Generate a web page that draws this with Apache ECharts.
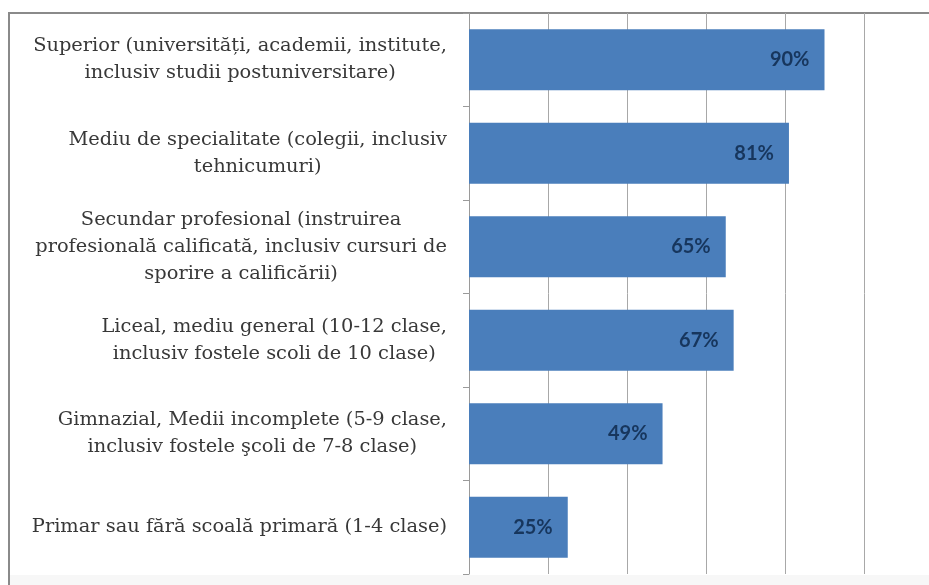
<!DOCTYPE html>
<html>
<head>
<meta charset="utf-8">
<title>Nivel de studii</title>
<script src="https://cdn.jsdelivr.net/npm/echarts@6/dist/echarts.min.js"></script>
<style>
  html, body { margin: 0; padding: 0; background: #fff; }
  #frame {
    position: absolute; left: 8px; top: 12px; width: 921px; height: 573px;
    border-top: 2px solid #8a8a8a; border-left: 2px solid #8a8a8a;
  }
  #strip { position: absolute; left: 10px; top: 575px; width: 919px; height: 10px; background: #f7f7f7; }
  #chart { position: absolute; left: 0; top: 0; width: 929px; height: 585px; }
</style>
</head>
<body>
<div id="frame"></div>
<div id="strip"></div>
<div id="chart"></div>
<script>
const categories = [
  'Superior (universități, academii, institute,\ninclusiv studii postuniversitare)',
  'Mediu de specialitate (colegii, inclusiv\ntehnicumuri)',
  'Secundar profesional (instruirea\nprofesională calificată, inclusiv cursuri de\nsporire a calificării)',
  'Liceal, mediu general (10-12 clase,\ninclusiv fostele scoli de 10 clase)',
  'Gimnazial, Medii incomplete (5-9 clase,\ninclusiv fostele şcoli de 7-8 clase)',
  'Primar sau fără scoală primară (1-4 clase)'
];
const values = [90, 81, 65, 67, 49, 25];
const axisMax = 100;
const axisStep = 20;

const chart = echarts.init(document.getElementById('chart'));

chart.setOption({
  animation: false,
  grid: { left: 469, right: 65, top: 13, bottom: 11, containLabel: false },
  xAxis: {
    type: 'value',
    min: 0,
    max: axisMax,
    interval: axisStep,
    axisLabel: { show: false },
    axisLine: { show: false },
    axisTick: { show: false },
    splitLine: { lineStyle: { color: '#a8a8a8', width: 1 } }
  },
  yAxis: {
    type: 'category',
    data: categories,
    inverse: true,
    axisLine: { lineStyle: { color: '#9a9a9a' } },
    axisTick: { show: true, length: 6, lineStyle: { color: '#9a9a9a' } },
    axisLabel: {
      margin: 22,
      // each line centred inside the right-aligned block
      formatter: (v) => v.split('\n').map(l => '{c|' + l + '}').join('\n'),
      rich: {
        c: {
          align: 'center',
          fontFamily: 'DejaVu Serif',
          fontSize: 19.4,
          lineHeight: 27,
          color: '#383838'
        }
      }
    }
  },
  series: [{
    type: 'bar',
    data: values,
    barCategoryGap: '35%',
    itemStyle: { color: '#4a7ebb' },
    label: {
      show: true,
      position: 'insideRight',
      distance: 15,
      formatter: '{c}%',
      fontFamily: 'Lato',
      fontWeight: 'bold',
      fontSize: 20,
      color: '#17365d'
    }
  }]
});

window.addEventListener('resize', () => chart.resize());
</script>
</body>
</html>
